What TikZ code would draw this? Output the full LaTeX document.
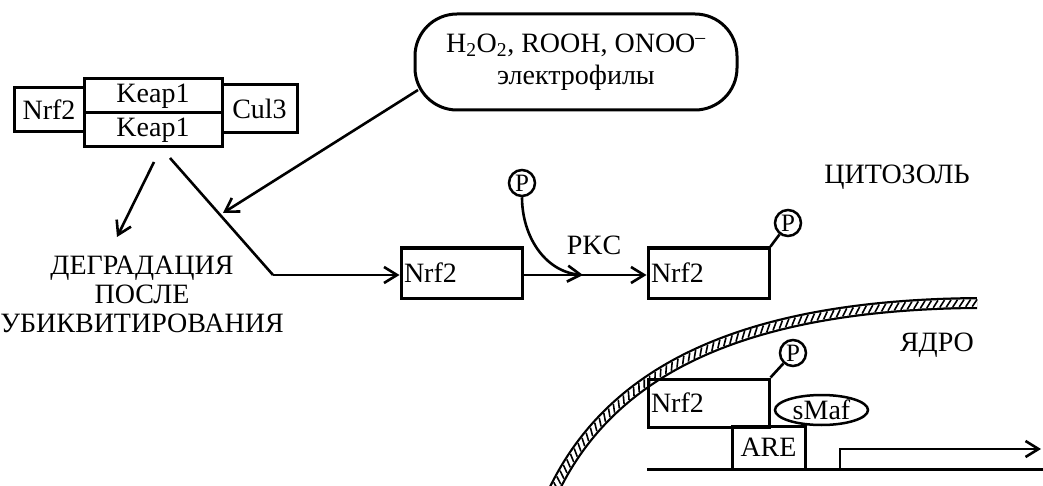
\documentclass[tikz,border=0pt]{standalone}
\usepackage{fontspec}
\setmainfont{Liberation Serif}
\usetikzlibrary{arrows.meta,decorations.markings,shapes.geometric}
\tikzset{
  box/.style={draw, line width=3pt, inner sep=3pt},
  lbox/.style={box, text width=115pt, minimum height=50pt, align=left},
  phos/.style={draw, circle, line width=2.5pt, minimum size=26pt, inner sep=0pt, font=\fontsize{25}{25}\selectfont},
  link/.style={line width=2.6pt},
  hatch/.style={decoration={markings, mark=between positions 0 and 1 step 6.5pt with {\draw[black, line width=1.6pt] (-2.5pt,-3.6pt) -- (2.5pt,3.6pt);}}}
}
\begin{document}
\begin{tikzpicture}[x=1pt, y=-1pt, >={Straight Barb[length=13pt,width=16pt]}, font=\fontsize{28}{32}\selectfont]
    \useasboundingbox (0,0) rectangle (1043,486);
    \draw[line width=12pt] (553,492) .. controls (610,372) and (740,305) .. (977,303);
    \draw[line width=7.5pt, white, hatch, postaction={decorate}] (553,492) .. controls (610,372) and (740,305) .. (977,303);
    \node[box, minimum width=70pt, minimum height=44pt] (nrfK) at (49,110) {Nrf2};
    \node[box, minimum width=138pt, minimum height=34pt] (keapA) at (153,96) {Keap1};
    \node[box, minimum width=138pt, minimum height=34pt] (keapB) at (153,130) {Keap1};
    \node[box, minimum width=75pt, minimum height=48pt] (cul) at (259.5,109) {Cul3};
    \node[box, rounded corners=42pt, minimum width=322pt, minimum height=96pt, align=center, font=\fontsize{28}{32}\selectfont] (ros) at (576,62) {H\textsubscript{2}O\textsubscript{2}, ROOH, ONOO\textsuperscript{–}\\электрофилы};
    \node[align=center, font=\fontsize{28}{29}\selectfont] (deg) at (142,294) {ДЕГРАДАЦИЯ\\ПОСЛЕ\\УБИКВИТИРОВАНИЯ};
    \coordinate (kLeft) at (154,162);
    \coordinate (degTop) at (117,237);
    \coordinate (kRight) at (170,158);
    \coordinate (bend) at (273,275);
    \coordinate (rosOut) at (418,90);
    \coordinate (hit) at (223,213);
    \node[lbox] (nrfA) at (461.5,273) {Nrf2};
    \node[lbox] (nrfB) at (708.5,273) {Nrf2};
    \node[phos] (pA) at (522,183) {P};
    \node[phos] (pB) at (788,223) {P};
    \node (pkc) at (594,245) {PKC};
    \coordinate (pkcEnd) at (583,275);
    \draw[->, link] (kLeft) -- (degTop);
    \draw[link] (kRight) -- (bend);
    \draw[->, link] (bend) -- (bend -| nrfA.west);
    \draw[->, link] (rosOut) -- (hit);
    \draw[->, link] (nrfA.east |- bend) -- (bend -| nrfB.west);
    \draw[->, link] (pA) to[out=-90, in=175] (pkcEnd);
    \draw[link] (nrfB.north east) -- (pB);
    \node (cyt) at (897,177) {ЦИТОЗОЛЬ};
    \node (nuc) at (937,345) {ЯДРО};
    \node[phos] (pC) at (793,353) {P};
    \node[lbox, minimum height=48pt] (nrfC) at (708.5,403) {Nrf2};
    \draw[link] (nrfC.north east) -- (pC);
    \node[draw, ellipse, line width=2.5pt, minimum width=93pt, minimum height=30pt, inner sep=0pt] (smaf) at (821.5,410) {sMaf};
    \node[box, minimum width=73pt, minimum height=43pt] (are) at (768.5,447.5) {ARE};
    \coordinate (dnaL) at (647,469);
    \coordinate (dnaR) at (1043,469);
    \coordinate (tss) at (840,469);
    \coordinate (txEnd) at (1041,449);
    \draw[line width=3pt] (dnaL) -- (dnaR);
    \draw[->, link] (tss) |- (txEnd);
\end{tikzpicture}
\end{document}
